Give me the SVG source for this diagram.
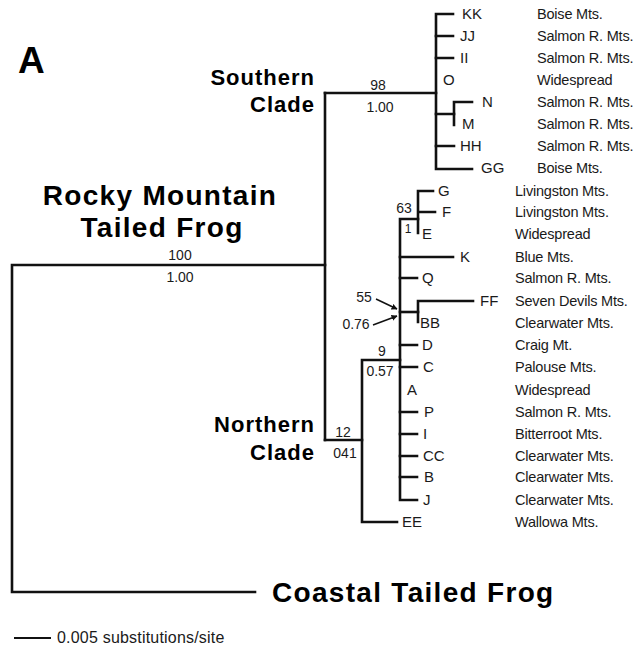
<svg xmlns="http://www.w3.org/2000/svg" width="643" height="648" viewBox="0 0 643 648">
<style>
.br{fill:none;stroke:#111;stroke-width:2.6;stroke-linecap:square;stroke-linejoin:miter}
.ar{fill:none;stroke:#111;stroke-width:1.5}
text{font-family:"Liberation Sans",Arial,sans-serif;fill:#1a1a1a}
.tip{font-size:15px}
.loc{font-size:14.5px;letter-spacing:-0.2px}
.sup{font-size:14px;text-anchor:middle}
.big{font-size:28px;font-weight:bold;fill:#000}
.clade{font-size:22px;font-weight:bold;fill:#000;text-anchor:end;letter-spacing:1px}
</style>
<defs>
<marker id="ah" viewBox="0 0 10 10" refX="9" refY="5" markerWidth="6" markerHeight="6" orient="auto" markerUnits="userSpaceOnUse">
<path d="M0,0 L10,5 L0,10 z" fill="#111"/>
</marker>
</defs>
<rect width="643" height="648" fill="#fff"/>

<g id="connectors">
<path class="br" d="M325,265 H12 V592 H255"/>
<path class="br" d="M325,93 V440"/>
<path class="br" d="M325,93 H436"/>
<path class="br" d="M453,14 H436 V169 H472"/>
<path class="br" d="M436,36 H453 M436,58 H453 M436,114 H454 M436,146 H454"/>
<path class="br" d="M472,102 H454 V125"/>
<path class="br" d="M325,440 H362"/>
<path class="br" d="M400,360 H362 V522 H397"/>
<path class="br" d="M418,219 H400 V500 H417"/>
<path class="br" d="M433,191 H418 V233 M418,212 H435"/>
<path class="br" d="M400,257 H453 M400,278 H417"/>
<path class="br" d="M400,312 H418"/>
<path class="br" d="M473,301 H418 V322"/>
<path class="br" d="M400,345 H417 M400,367 H417 M400,412 H417 M400,434 H417 M400,456 H417 M400,477 H417"/>
<path class="ar" d="M376,299 L397,309" marker-end="url(#ah)"/>
<path class="ar" d="M373,325 L397,316" marker-end="url(#ah)"/>
<path class="br" d="M15,638 H50" style="stroke-width:2"/>
</g>

<g id="labels">
<text x="18" y="73" style="font-size:37px;font-weight:bold;fill:#000">A</text>
<text class="big" x="160" y="205" text-anchor="middle" letter-spacing="1.3">Rocky Mountain</text>
<text class="big" x="162" y="237" text-anchor="middle" letter-spacing="1.3">Tailed Frog</text>
<text class="big" x="272" y="602" letter-spacing="1.3">Coastal Tailed Frog</text>
<text class="clade" x="315" y="85">Southern</text>
<text class="clade" x="315" y="112">Clade</text>
<text class="clade" x="315" y="432">Northern</text>
<text class="clade" x="315" y="460">Clade</text>
<text x="57" y="643" style="font-size:16px;letter-spacing:0.2px">0.005 substitutions/site</text>
</g>

<g id="support">
<text class="sup" x="378" y="90">98</text>
<text class="sup" x="380" y="112">1.00</text>
<text class="sup" x="180" y="260">100</text>
<text class="sup" x="180" y="282">1.00</text>
<text class="sup" x="404" y="213">63</text>
<text class="sup" x="408" y="233" style="font-size:12px">1</text>
<text class="sup" x="364" y="302">55</text>
<text class="sup" x="356" y="329">0.76</text>
<text class="sup" x="382" y="356">9</text>
<text class="sup" x="380" y="376">0.57</text>
<text class="sup" x="343" y="437">12</text>
<text class="sup" x="345" y="458">041</text>
</g>

<g id="node-KK"><text class="tip" x="462" y="19">KK</text><text class="loc" x="537" y="19">Boise Mts.</text></g>
<g id="node-JJ"><text class="tip" x="460" y="41">JJ</text><text class="loc" x="537" y="41">Salmon R. Mts.</text></g>
<g id="node-II"><text class="tip" x="460" y="63">II</text><text class="loc" x="537" y="63">Salmon R. Mts.</text></g>
<g id="node-O"><text class="tip" x="443" y="85">O</text><text class="loc" x="537" y="85">Widespread</text></g>
<g id="node-N"><text class="tip" x="482" y="107">N</text><text class="loc" x="537" y="107">Salmon R. Mts.</text></g>
<g id="node-M"><text class="tip" x="462" y="129">M</text><text class="loc" x="537" y="129">Salmon R. Mts.</text></g>
<g id="node-HH"><text class="tip" x="460" y="151">HH</text><text class="loc" x="537" y="151">Salmon R. Mts.</text></g>
<g id="node-GG"><text class="tip" x="481" y="173">GG</text><text class="loc" x="537" y="173">Boise Mts.</text></g>

<g id="node-G"><text class="tip" x="438" y="196">G</text><text class="loc" x="515" y="196">Livingston Mts.</text></g>
<g id="node-F"><text class="tip" x="442" y="217">F</text><text class="loc" x="515" y="217">Livingston Mts.</text></g>
<g id="node-E"><text class="tip" x="422" y="239">E</text><text class="loc" x="515" y="239">Widespread</text></g>
<g id="node-K"><text class="tip" x="460" y="262">K</text><text class="loc" x="515" y="262">Blue Mts.</text></g>
<g id="node-Q"><text class="tip" x="422" y="283">Q</text><text class="loc" x="515" y="283">Salmon R. Mts.</text></g>
<g id="node-FF"><text class="tip" x="480" y="306">FF</text><text class="loc" x="515" y="306">Seven Devils Mts.</text></g>
<g id="node-BB"><text class="tip" x="420" y="328">BB</text><text class="loc" x="515" y="328">Clearwater Mts.</text></g>
<g id="node-D"><text class="tip" x="422" y="350">D</text><text class="loc" x="515" y="350">Craig Mt.</text></g>
<g id="node-C"><text class="tip" x="423" y="372">C</text><text class="loc" x="515" y="372">Palouse Mts.</text></g>
<g id="node-A"><text class="tip" x="407" y="395">A</text><text class="loc" x="515" y="395">Widespread</text></g>
<g id="node-P"><text class="tip" x="424" y="417">P</text><text class="loc" x="515" y="417">Salmon R. Mts.</text></g>
<g id="node-I"><text class="tip" x="423" y="439">I</text><text class="loc" x="515" y="439">Bitterroot Mts.</text></g>
<g id="node-CC"><text class="tip" x="423" y="461">CC</text><text class="loc" x="515" y="461">Clearwater Mts.</text></g>
<g id="node-B"><text class="tip" x="424" y="482">B</text><text class="loc" x="515" y="482">Clearwater Mts.</text></g>
<g id="node-J"><text class="tip" x="423" y="505">J</text><text class="loc" x="515" y="505">Clearwater Mts.</text></g>
<g id="node-EE"><text class="tip" x="402" y="527">EE</text><text class="loc" x="515" y="527">Wallowa Mts.</text></g>
</svg>
